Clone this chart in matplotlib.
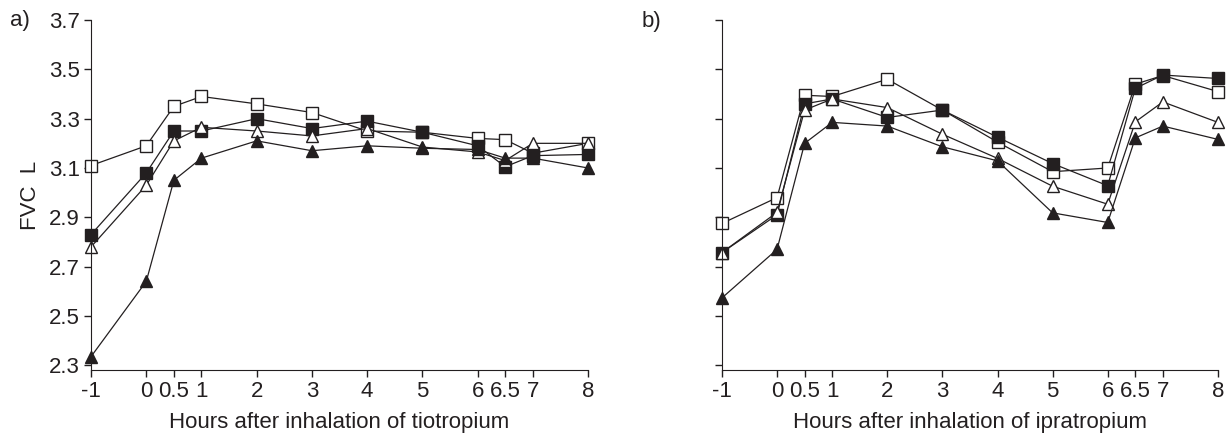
import numpy as np
import matplotlib
matplotlib.use("Agg")
import matplotlib.pyplot as plt

plt.rcParams['font.family'] = ['Liberation Sans Narrow', 'Liberation Sans', 'DejaVu Sans']

# x positions (hours)
hours = [-1, 0, 0.5, 1, 2, 3, 4, 5, 6, 6.5, 7, 8]
hour_labels = ["-1", "0", "0.5", "1", "2", "3", "4", "5", "6", "6.5", "7", "8"]
yticks = [2.3, 2.5, 2.7, 2.9, 3.1, 3.3, 3.5, 3.7]

# a) tiotropium
tio_open_sq   = [3.11, 3.19, 3.35, 3.39, 3.36, 3.325, 3.25, 3.245, 3.22, 3.215, 3.16, 3.20]
tio_fill_sq   = [2.83, 3.08, 3.25, 3.25, 3.30, 3.26, 3.29, 3.245, 3.19, 3.105, 3.15, 3.155]
tio_open_tri  = [2.78, 3.03, 3.21, 3.265, 3.25, 3.23, 3.26, 3.185, 3.165, 3.13, 3.20, 3.20]
tio_fill_tri  = [2.335, 2.64, 3.05, 3.14, 3.21, 3.17, 3.19, 3.18, 3.175, 3.14, 3.14, 3.10]

# b) ipratropium
ipr_open_sq   = [2.875, 2.98, 3.395, 3.39, 3.46, 3.335, 3.205, 3.085, 3.10, 3.44, 3.475, 3.41]
ipr_fill_sq   = [2.757, 2.91, 3.36, 3.38, 3.305, 3.335, 3.225, 3.118, 3.028, 3.423, 3.477, 3.463]
ipr_open_tri  = [2.757, 2.92, 3.335, 3.38, 3.345, 3.237, 3.139, 3.026, 2.953, 3.287, 3.368, 3.285]
ipr_fill_tri  = [2.573, 2.77, 3.20, 3.285, 3.27, 3.186, 3.129, 2.918, 2.879, 3.222, 3.27, 3.216]

ink = '#231f20'

fig = plt.figure(figsize=(12.32, 4.36), dpi=100)
axA = fig.add_axes([0.0739, 0.151, 0.4034, 0.803])
axB = fig.add_axes([0.586, 0.151, 0.4026, 0.803])


def draw(ax, series):
    for ys, mk, fc in series:
        ax.plot(hours, ys, color=ink, lw=0.9, marker=mk, ms=8, mfc=fc,
                mec=ink, mew=1.0, clip_on=False)
    ax.set_xlim(-1, 8)
    ax.set_ylim(2.28, 3.7)
    ax.spines['top'].set_visible(False)
    ax.spines['right'].set_visible(False)
    ax.spines['left'].set_color(ink)
    ax.spines['bottom'].set_color(ink)
    ax.set_xticks(hours)
    ax.set_xticklabels(hour_labels)
    ax.set_yticks(yticks)
    ax.tick_params(direction='out', length=5, width=1, colors=ink,
                   labelsize=16, pad=3)


draw(axA, [(tio_open_sq, 's', 'white'), (tio_fill_sq, 's', ink),
           (tio_open_tri, '^', 'white'), (tio_fill_tri, '^', ink)])
draw(axB, [(ipr_open_sq, 's', 'white'), (ipr_fill_sq, 's', ink),
           (ipr_open_tri, '^', 'white'), (ipr_fill_tri, '^', ink)])

axA.set_yticklabels([f"{v:.1f}" for v in yticks])
axB.set_yticklabels([])

axA.set_xlabel("Hours after inhalation of tiotropium", fontsize=16, color=ink, labelpad=7)
axB.set_xlabel("Hours after inhalation of ipratropium", fontsize=16, color=ink, labelpad=7)
axA.set_ylabel("FVC  L", fontsize=16, color=ink, labelpad=6)

fig.text(0.008, 0.954, "a)", fontsize=16, color=ink, va='center')
fig.text(0.521, 0.95, "b)", fontsize=16, color=ink, va='center')

fig.savefig("out.png", dpi=100)
